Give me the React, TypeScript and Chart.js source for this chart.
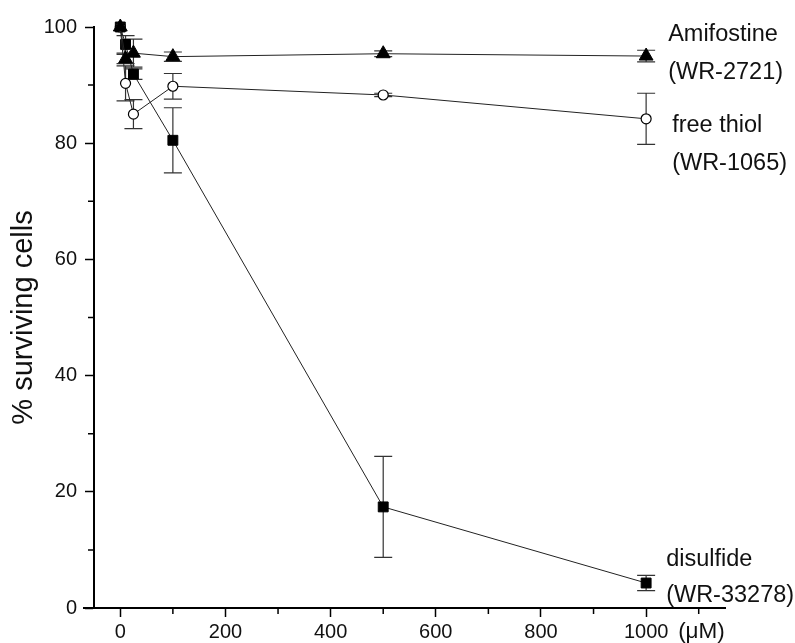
import React, { useEffect, useRef } from "react";
import { Chart, registerables } from "chart.js";

Chart.register(...registerables);

// ---- data ----
const doses = [0, 10, 25, 100, 500, 1000];

const amifostine = [100, 94.5, 95.5, 94.9, 95.4, 95.0];
const amifostineErr = [0, 0.8, 2.4, 0.8, 0.5, 1.0];

const freeThiol = [100, 90.3, 85.0, 89.8, 88.3, 84.2];
const freeThiolErr = [0, 3.0, 2.5, 2.2, 0.3, 4.4];

const disulfide = [100, 97.0, 91.9, 80.5, 17.4, 4.3];
const disulfideErr = [0, 1.5, 0.9, 5.6, 8.7, 1.3];

const xMajorTicks = [0, 200, 400, 600, 800, 1000];
const xMinorTicks = [100, 300, 500, 700, 900, 1100];
const yMajorTicks = [0, 20, 40, 60, 80, 100];
const yMinorTicks = [10, 30, 50, 70, 90];

const amifostineLabel = ["Amifostine", "(WR-2721)"];
const freeThiolLabel = ["free thiol", "(WR-1065)"];
const disulfideLabel = ["disulfide", "(WR-33278)"];
const xUnit = "(μM)";
const yTitle = "% surviving cells";

const FONT = "'Liberation Sans', Arial, Helvetica, sans-serif";

const errors = [amifostineErr, freeThiolErr, disulfideErr];
const labels = [amifostineLabel, freeThiolLabel, disulfideLabel];

const decorPlugin = {
  id: "decor",
  beforeDatasetsDraw(chart: any) {
    const ctx = chart.ctx;
    const xs = chart.scales.x;
    const ys = chart.scales.y;
    ctx.save();
    ctx.strokeStyle = "#333";
    ctx.lineWidth = 1.2;
    chart.data.datasets.forEach((ds: any, i: number) => {
      const err = errors[i];
      ds.data.forEach((p: any, j: number) => {
        const e = err[j];
        if (!e) return;
        const x = xs.getPixelForValue(p.x);
        const yHi = ys.getPixelForValue(p.y + e);
        const yLo = ys.getPixelForValue(p.y - e);
        ctx.beginPath();
        ctx.moveTo(x, yHi);
        ctx.lineTo(x, yLo);
        ctx.moveTo(x - 9, yHi);
        ctx.lineTo(x + 9, yHi);
        ctx.moveTo(x - 9, yLo);
        ctx.lineTo(x + 9, yLo);
        ctx.stroke();
      });
    });
    ctx.restore();
  },
  afterDraw(chart: any) {
    const ctx = chart.ctx;
    const xs = chart.scales.x;
    const ys = chart.scales.y;
    const area = chart.chartArea;
    ctx.save();
    ctx.strokeStyle = "#000";
    // x axis stub extending left of the y axis
    ctx.lineWidth = 2;
    ctx.beginPath();
    ctx.moveTo(area.left - 11, area.bottom);
    ctx.lineTo(area.left, area.bottom);
    ctx.stroke();
    // minor ticks
    ctx.lineWidth = 1.5;
    ctx.beginPath();
    xMinorTicks.forEach((v) => {
      const px = xs.getPixelForValue(v);
      ctx.moveTo(px, area.bottom);
      ctx.lineTo(px, area.bottom + 6);
    });
    yMinorTicks.forEach((v) => {
      const py = ys.getPixelForValue(v);
      ctx.moveTo(area.left - 6, py);
      ctx.lineTo(area.left, py);
    });
    ctx.stroke();

    // series labels next to the last point
    const last = doses.length - 1;
    const px1000 = xs.getPixelForValue(doses[last]);
    ctx.fillStyle = "#111";
    ctx.textAlign = "left";
    ctx.textBaseline = "alphabetic";
    ctx.font = `23.5px ${FONT}`;
    const lastY = [amifostine[last], freeThiol[last], disulfide[last]].map((v) => ys.getPixelForValue(v));
    const offs = [
      { dx: 22, d1: -15, d2: 23 },
      { dx: 26, d1: 13, d2: 51 },
      { dx: 20, d1: -17, d2: 19 },
    ];
    labels.forEach((lab, i) => {
      ctx.fillText(lab[0], px1000 + offs[i].dx, lastY[i] + offs[i].d1);
      ctx.fillText(lab[1], px1000 + offs[i].dx, lastY[i] + offs[i].d2);
    });
    // unit label after the last tick label
    ctx.font = `22.5px ${FONT}`;
    ctx.fillText(xUnit, px1000 + 32, area.bottom + 30);
    ctx.restore();
  },
};

export default function App() {
  const ref = useRef<HTMLCanvasElement | null>(null);

  useEffect(() => {
    if (!ref.current) return;
    const mk = (vals: number[]) => doses.map((x, i) => ({ x, y: vals[i] }));
    const chart = new Chart(ref.current, {
      type: "scatter",
      data: {
        datasets: [
          {
            label: amifostineLabel.join(" "),
            data: mk(amifostine),
            showLine: true,
            borderColor: "#222",
            borderWidth: 1,
            pointStyle: "triangle",
            pointRadius: 8,
            pointBackgroundColor: "#000",
            pointBorderColor: "#000",
            pointBorderWidth: 1,
            clip: false,
          },
          {
            label: freeThiolLabel.join(" "),
            data: mk(freeThiol),
            showLine: true,
            borderColor: "#222",
            borderWidth: 1,
            pointStyle: "circle",
            pointRadius: 5,
            pointBackgroundColor: "#fff",
            pointBorderColor: "#000",
            pointBorderWidth: 1.2,
            clip: false,
          },
          {
            label: disulfideLabel.join(" "),
            data: mk(disulfide),
            showLine: true,
            borderColor: "#222",
            borderWidth: 1,
            pointStyle: "rect",
            pointRadius: 7,
            pointBackgroundColor: "#000",
            pointBorderColor: "#000",
            pointBorderWidth: 1,
            clip: false,
          },
        ],
      },
      options: {
        animation: false,
        responsive: false,
        devicePixelRatio: 1,
        layout: { padding: { top: 27, right: 70, bottom: 0, left: 0 } },
        plugins: { legend: { display: false }, tooltip: { enabled: false } },
        scales: {
          x: {
            type: "linear",
            min: -50,
            max: 1150,
            afterBuildTicks: (s: any) => {
              s.ticks = xMajorTicks.map((v) => ({ value: v }));
            },
            afterFit: (s: any) => {
              s.height = 35;
            },
            grid: {
              drawOnChartArea: false,
              drawTicks: true,
              tickLength: 9,
              tickWidth: 1.5,
              tickColor: "#000",
            },
            border: { display: true, color: "#000", width: 2 },
            ticks: {
              color: "#111",
              padding: 3,
              maxRotation: 0,
              font: { family: FONT, size: 20 },
              callback: (v: any) => String(v),
            },
          },
          y: {
            type: "linear",
            min: 0,
            max: 100,
            afterBuildTicks: (s: any) => {
              s.ticks = yMajorTicks.map((v) => ({ value: v }));
            },
            afterFit: (s: any) => {
              s.width = 94;
            },
            grid: {
              drawOnChartArea: false,
              drawTicks: true,
              tickLength: 9,
              tickWidth: 1.5,
              tickColor: "#000",
            },
            border: { display: true, color: "#000", width: 2 },
            ticks: {
              color: "#111",
              padding: 8,
              font: { family: FONT, size: 20 },
              callback: (v: any) => String(v),
            },
            title: {
              display: true,
              text: yTitle,
              color: "#111",
              padding: { top: 7, bottom: 0 },
              font: { family: FONT, size: 29 },
            },
          },
        },
      },
      plugins: [decorPlugin],
    } as any);
    return () => chart.destroy();
  }, []);

  return (
    <div style={{ position: "absolute", left: 0, top: 0, width: 795, height: 643, background: "#fff" }}>
      <canvas ref={ref} width={795} height={643} style={{ display: "block" }} />
    </div>
  );
}
